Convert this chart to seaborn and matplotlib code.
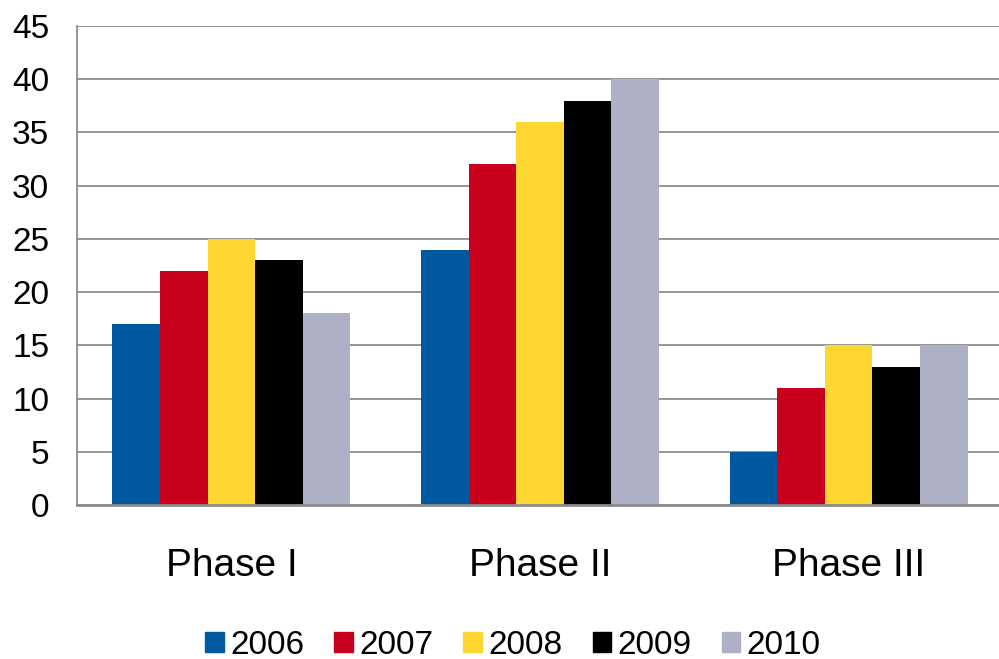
import numpy as np
import pandas as pd
import matplotlib
matplotlib.use("Agg")
import matplotlib.pyplot as plt
from matplotlib.patches import Patch
import seaborn as sns

# data
phases = ["Phase I", "Phase II", "Phase III"]
years = ["2006", "2007", "2008", "2009", "2010"]
v2006 = [17, 24, 5]
v2007 = [22, 32, 11]
v2008 = [25, 36, 15]
v2009 = [23, 38, 13]
v2010 = [18, 40, 15]
colors = ["#00589F", "#C8001E", "#FDD631", "#000000", "#AEB1C5"]

df = pd.DataFrame({
    "Phase": phases * len(years),
    "Year": np.repeat(years, len(phases)),
    "Value": v2006 + v2007 + v2008 + v2009 + v2010,
})

sns.set_style("white")
plt.rcParams["font.family"] = ["Liberation Sans", "DejaVu Sans"]
plt.rcParams["text.color"] = "black"
plt.rcParams["xtick.labelcolor"] = "black"
plt.rcParams["ytick.labelcolor"] = "black"

grey = "#8C8C8C"
fig = plt.figure(figsize=(9.99, 6.59), dpi=100)
ax = fig.add_axes([77 / 999, 1 - 505 / 659, (1003 - 77) / 999, (505 - 26) / 659])

sns.barplot(data=df, x="Phase", y="Value", hue="Year", palette=colors,
            width=0.77, saturation=1, linewidth=0, ax=ax, legend=False)

ax.set_ylim(0, 45)
ax.set_xlim(-0.5, 2.5)
ax.set_yticks(range(0, 46, 5))
ax.yaxis.grid(True, color=grey, lw=1.3)
ax.set_axisbelow(True)
ax.set_xlabel("")
ax.set_ylabel("")

for s in ["top", "right"]:
    ax.spines[s].set_visible(False)
ax.spines["left"].set_color(grey)
ax.spines["left"].set_linewidth(1.3)
ax.spines["bottom"].set_color(grey)
ax.spines["bottom"].set_linewidth(2)

# boundary ticks on x, labels centred between
ax.set_xticks([-0.5, 0.5, 1.5, 2.5])
ax.set_xticklabels([])
ax.set_xticks([0, 1, 2], minor=True)
ax.set_xticklabels(phases, minor=True, fontsize=28)
ax.tick_params(axis="x", which="major", length=9, width=1.3, color=grey, direction="out")
ax.tick_params(axis="x", which="minor", length=0, pad=31)
ax.tick_params(axis="y", length=7, width=1.3, color=grey, labelsize=24, pad=13)

handles = [Patch(color=c) for c in colors]
fig.legend(handles, years, loc="center", bbox_to_anchor=(513 / 999, 1 - 645 / 659),
           ncol=5, frameon=False, fontsize=24, handlelength=0.55, handleheight=0.55,
           handletextpad=0.2, columnspacing=0.9)

fig.savefig("out.png", dpi=100)
